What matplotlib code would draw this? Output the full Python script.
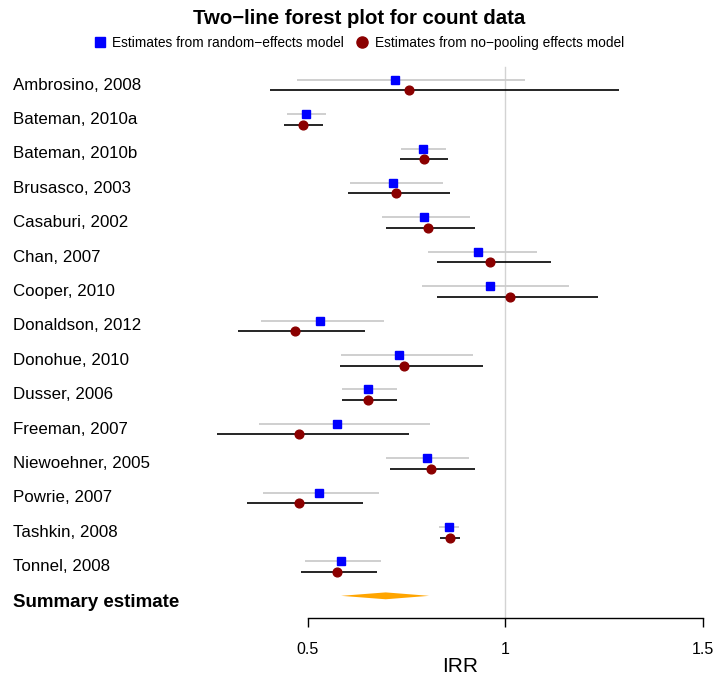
import matplotlib
matplotlib.use("Agg")
import matplotlib.pyplot as plt
import matplotlib.transforms as mtransforms
from matplotlib.lines import Line2D
import numpy as np

plt.rcParams['font.family'] = ['Liberation Sans', 'DejaVu Sans']

# studies
studies = ["Ambrosino, 2008", "Bateman, 2010a", "Bateman, 2010b", "Brusasco, 2003",
           "Casaburi, 2002", "Chan, 2007", "Cooper, 2010", "Donaldson, 2012",
           "Donohue, 2010", "Dusser, 2006", "Freeman, 2007", "Niewoehner, 2005",
           "Powrie, 2007", "Tashkin, 2008", "Tonnel, 2008"]

# random-effects estimates (blue squares, grey CI)
re_est = [0.720, 0.494, 0.792, 0.716, 0.795, 0.932, 0.962, 0.531, 0.732, 0.653,
          0.574, 0.802, 0.529, 0.858, 0.585]
re_lo = [0.472, 0.447, 0.735, 0.606, 0.688, 0.803, 0.788, 0.382, 0.585, 0.587,
         0.377, 0.698, 0.387, 0.833, 0.493]
re_hi = [1.051, 0.545, 0.850, 0.843, 0.910, 1.080, 1.161, 0.693, 0.919, 0.725,
         0.810, 0.908, 0.681, 0.883, 0.685]

# no-pooling estimates (dark red circles, black CI)
np_est = [0.757, 0.488, 0.794, 0.722, 0.804, 0.961, 1.013, 0.466, 0.743, 0.652,
          0.477, 0.811, 0.477, 0.859, 0.574]
np_lo = [0.403, 0.440, 0.734, 0.601, 0.697, 0.827, 0.827, 0.324, 0.580, 0.587,
         0.270, 0.708, 0.346, 0.834, 0.482]
np_hi = [1.288, 0.538, 0.855, 0.861, 0.923, 1.116, 1.235, 0.644, 0.943, 0.726,
         0.755, 0.924, 0.640, 0.885, 0.676]

# summary estimate
sum_est, sum_lo, sum_hi = 0.697, 0.584, 0.807

xticks = [0.5, 1, 1.5]

fig = plt.figure(figsize=(7.14, 6.77), dpi=100)
ax = fig.add_axes([205.5 / 714, (677 - 618.3) / 677, (714 - 205.5) / 714, (618.3 - 60) / 677])
ax.set_xlim(0.2405, 1.5288)
ax.set_ylim(15.5, -0.727)

rows = np.arange(len(studies))
off = 0.153

ax.plot([1, 1], [-0.52, 15.5], color='#d3d3d3', lw=1.0, zorder=0)

ax.hlines(rows - off, re_lo, re_hi, color='#cccccc', lw=1.3, zorder=1)
ax.hlines(rows + off, np_lo, np_hi, color='black', lw=1.2, zorder=1)
ax.plot(re_est, rows - off, 's', color='blue', ms=6, zorder=3)
ax.plot(np_est, rows + off, 'o', color='#8B0000', ms=6.3, zorder=3)

# summary diamond
ys = len(studies) - off
h = 0.1
ax.fill([sum_lo, sum_est, sum_hi, sum_est], [ys, ys - h, ys, ys + h],
        color='orange', lw=0, zorder=2)

# study labels in left margin
tr = mtransforms.blended_transform_factory(fig.transFigure, ax.transData)
for i, s in enumerate(studies):
    ax.text(13.3 / 714, i, s, transform=tr, ha='left', va='center', fontsize=12.2)
ax.text(13.3 / 714, len(studies) + 0.05, "Summary estimate", transform=tr,
        ha='left', va='center', fontsize=13.5, fontweight='bold')

for sp in ['top', 'right', 'left']:
    ax.spines[sp].set_visible(False)
ax.spines['bottom'].set_bounds(0.5, 1.5)
ax.spines['bottom'].set_linewidth(1.0)
ax.set_xticks(xticks)
ax.set_xticklabels(['0.5', '1', '1.5'])
ax.tick_params(axis='x', direction='out', length=6.5, width=1.0, pad=10.5, labelsize=11.5)
ax.set_yticks([])
ax.set_xlabel("IRR", fontsize=15, labelpad=2)
ax.xaxis.set_label_coords((460 - 205.5) / (714 - 205.5), -0.07)

fig.text(0.503, 1 - 18 / 677, "Two−line forest plot for count data",
         ha='center', va='center', fontsize=14.7, fontweight='bold')

handles = [Line2D([], [], marker='s', color='blue', ls='', ms=7.5),
           Line2D([], [], marker='o', color='#8B0000', ls='', ms=8)]
fig.legend(handles, ["Estimates from random−effects model",
                     "Estimates from no−pooling effects model"],
           loc='center', bbox_to_anchor=(0.503, 1 - 43 / 677), ncol=2, frameon=False,
           fontsize=9.9, handlelength=0.8, handletextpad=0.5, columnspacing=0.9,
           borderpad=0)

fig.savefig("out.png", dpi=100)
